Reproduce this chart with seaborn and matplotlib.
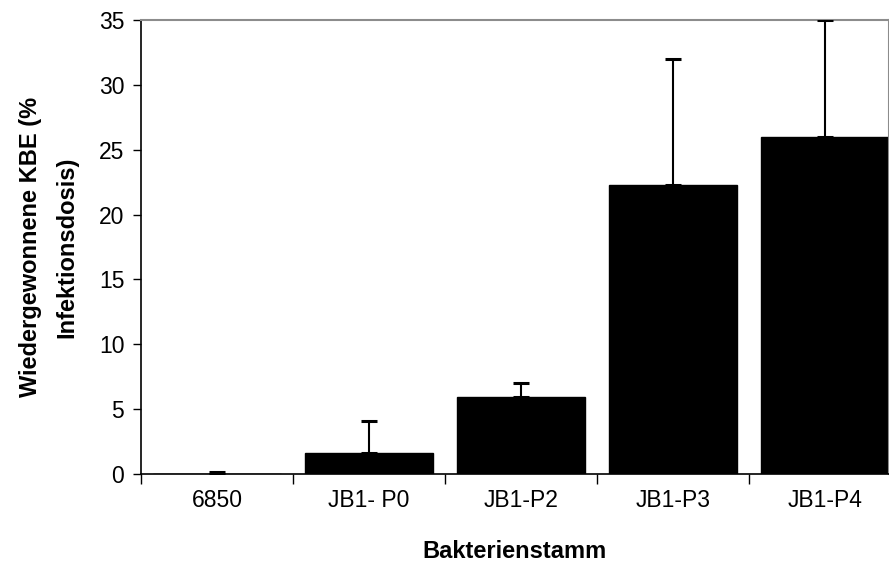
import matplotlib
matplotlib.use("Agg")
import matplotlib.pyplot as plt
import seaborn as sns
import pandas as pd
import numpy as np

categories = ["6850", "JB1- P0", "JB1-P2", "JB1-P3", "JB1-P4"]
values = [0.03, 1.6, 5.9, 22.3, 26.0]
errors = [0.15, 2.45, 1.1, 9.7, 9.0]
yticks = [0, 5, 10, 15, 20, 25, 30, 35]

sns.set_theme(style="white")
plt.rcParams['font.family'] = ['Liberation Sans', 'DejaVu Sans']
plt.rcParams['text.color'] = 'black'
plt.rcParams['axes.labelcolor'] = 'black'
plt.rcParams['xtick.color'] = 'black'
plt.rcParams['ytick.color'] = 'black'

df = pd.DataFrame({"cat": categories, "val": values})

fig = plt.figure(figsize=(8.89, 5.68), dpi=100)
ax = fig.add_axes([141/889, 1-474/568, (888.5-141)/889, (474-20)/568])

sns.barplot(data=df, x="cat", y="val", color="black", width=0.84,
            saturation=1, ax=ax, errorbar=None, edgecolor="black")
x = np.arange(len(categories))
ax.errorbar(x, values, yerr=[np.zeros(len(errors)), errors], fmt="none",
            ecolor="black", elinewidth=1.5, capsize=5.5, capthick=2.2, zorder=3)

ax.set_ylim(0, 35)
ax.set_xlim(-0.5, 4.42)
ax.set_yticks(yticks)
ax.set_yticklabels([str(t) for t in yticks], fontsize=16.5)
ax.set_xticks(x)
ax.set_xticklabels(categories, fontsize=16.5)
ax.tick_params(axis="x", which="major", length=0, pad=11)
ax.set_xticks(np.arange(-0.5, 4.5, 1), minor=True)
ax.tick_params(axis="x", which="minor", length=7, width=1, color="black", direction="out", bottom=True)
ax.tick_params(axis="y", length=6, width=1, color="black", direction="out", left=True, pad=6)

for s in ["left", "bottom"]:
    ax.spines[s].set_color("black")
    ax.spines[s].set_linewidth(1.2)
for s in ["top", "right"]:
    ax.spines[s].set_color("#8c8c8c")
    ax.spines[s].set_linewidth(1.5)
ax.grid(False)

ax.set_xlabel("Bakterienstamm", fontsize=17, fontweight="bold", labelpad=20)
ax.set_ylabel("Wiedergewonnene KBE (%\nInfektionsdosis)", fontsize=17, fontweight="bold",
              labelpad=15, linespacing=1.7)

fig.savefig("out.png", dpi=100)
